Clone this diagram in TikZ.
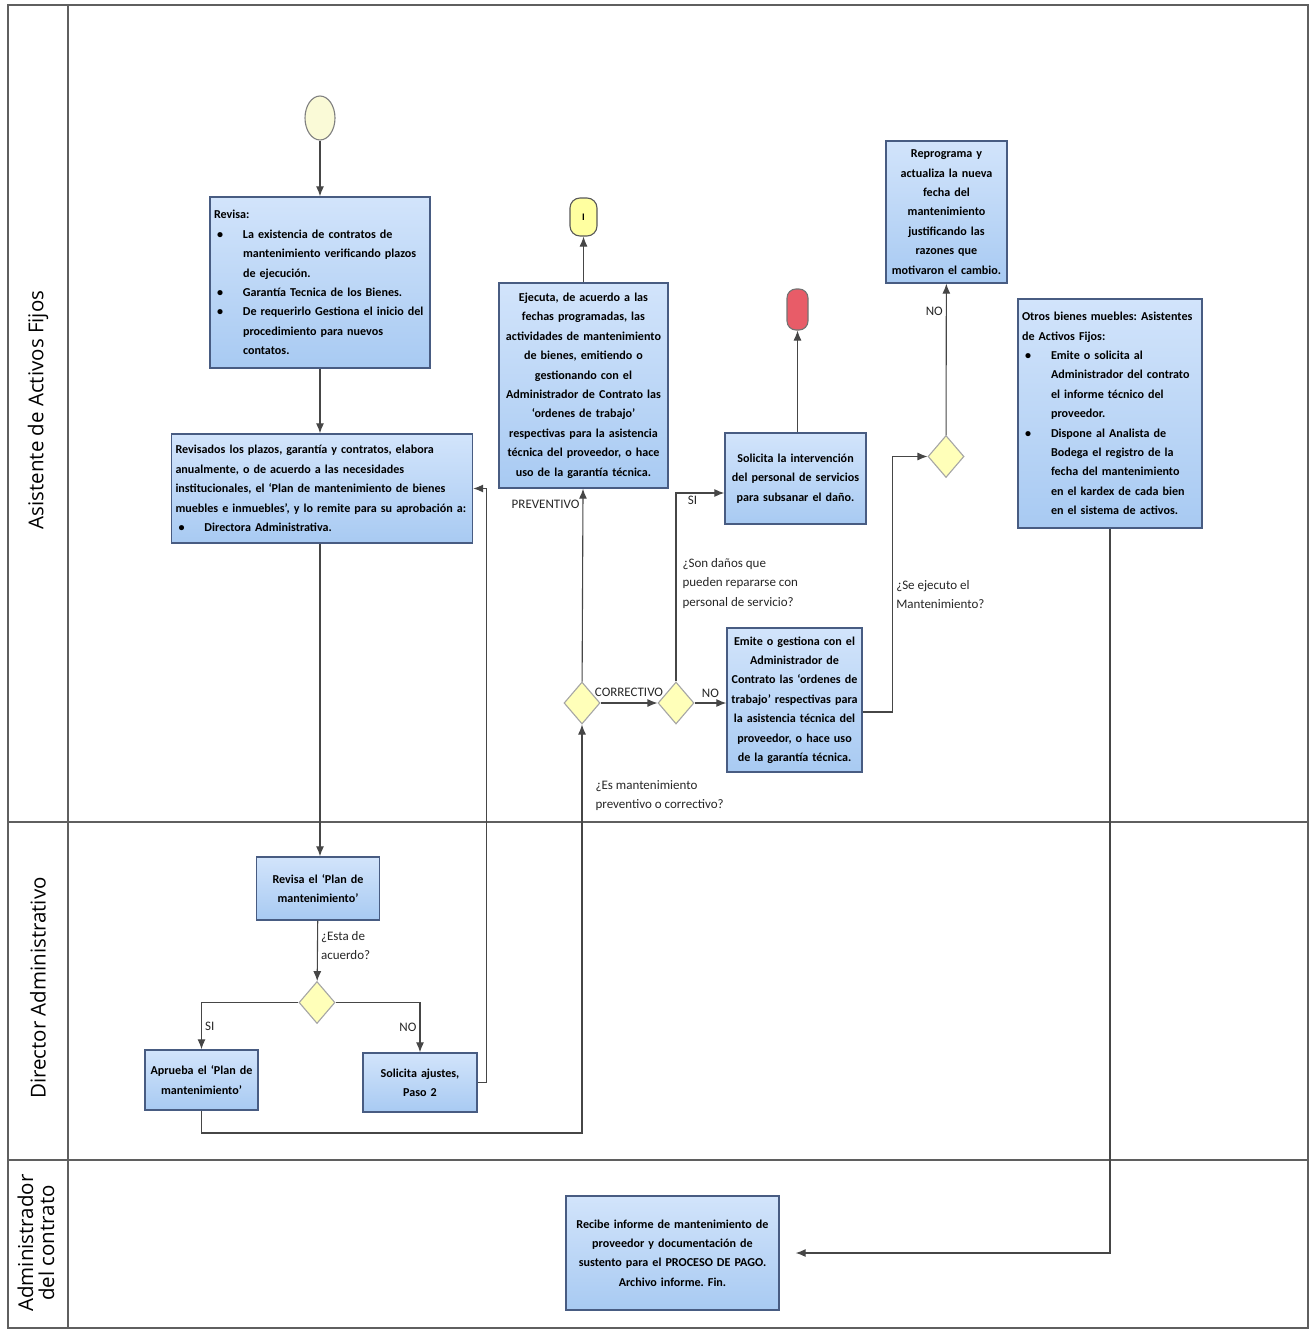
\documentclass[tikz,border=0pt]{standalone}
\usepackage{fontspec}
\setmainfont{Carlito}
\newfontfamily\lanefont{Open Sans}
\usepackage{xcolor}
\usetikzlibrary{shapes.geometric, arrows.meta, positioning}
\frenchspacing

\definecolor{boxtop}{RGB}{210,228,251}
\definecolor{boxbot}{RGB}{168,202,242}
\definecolor{boxline}{RGB}{72,92,130}
\definecolor{gatefill}{RGB}{255,255,185}
\definecolor{gateline}{RGB}{165,165,165}
\definecolor{startfill}{RGB}{250,250,215}
\definecolor{termyellow}{RGB}{255,255,160}
\definecolor{termred}{RGB}{232,92,104}
\definecolor{flowline}{RGB}{70,70,70}
\definecolor{laneline}{RGB}{95,95,95}

\newcommand{\bul}{\hspace*{3pt}\makebox[26pt][l]{\textbullet}}
\newcommand{\ind}{\hspace*{29pt}}

\begin{document}
\begin{tikzpicture}[x=1pt, y=-1pt, >={Latex[length=10pt,width=8pt]},
    task/.style={draw=boxline, line width=1.4pt, top color=boxtop, bottom color=boxbot,
      align=center, inner sep=4pt, font=\fontsize{12.1}{19.4}\selectfont\bfseries},
    gate/.style={diamond, draw=gateline, fill=gatefill, line width=1.1pt,
      minimum width=36pt, minimum height=42pt, inner sep=0pt},
    startev/.style={ellipse, draw=gray, fill=startfill, line width=1.1pt,
      minimum width=30pt, minimum height=44pt, inner sep=0pt},
    endI/.style={draw=black!65, fill=termyellow, rounded corners=10pt, line width=1.1pt,
      minimum width=27pt, minimum height=38pt, inner sep=0pt, font=\bfseries},
    endR/.style={draw=black!55, fill=termred, rounded corners=9pt, line width=1.1pt,
      minimum width=21pt, minimum height=41pt, inner sep=0pt},
    flow/.style={->, draw=flowline, line width=1.1pt},
    lbl/.style={font=\fontsize{13}{19.5}\selectfont, text=black!85, inner sep=3pt, align=left},
    lanerule/.style={draw=laneline, line width=1.2pt},
    lanelbl/.style={rotate=90, font=\lanefont\fontsize{20.5}{21}\selectfont, align=center}]
  \useasboundingbox (0,0) rectangle (1313,1330);

  % Lanes
  \draw[lanerule] (8,5) rectangle (1308,1328);
  \draw[lanerule] (68,5) -- (68,1328);
  \draw[lanerule] (8,822) -- (1308,822);
  \draw[lanerule] (8,1160) -- (1308,1160);
  \node[lanelbl] (laneA) at (38,410) {Asistente de Activos Fijos};
  \node[lanelbl] (laneB) at (38,988) {Director Administrativo};
  \node[lanelbl] (laneC) at (36,1243) {Administrador\\del contrato};

  % Asistente de Activos Fijos
  \node[startev] (inicio) at (320,118) {};
  \node[task, align=left, text width=212pt, minimum height=171pt] (revisa) at (320,282.5)
    {Revisa:\\
     \bul La existencia de contratos de\\
     \ind mantenimiento verificando plazos\\
     \ind de ejecución.\\
     \bul Garantía Tecnica de los Bienes.\\
     \bul De requerirlo Gestiona el inicio del\\
     \ind procedimiento para nuevos\\
     \ind contatos.};
  \node[task, align=left, text width=293pt, minimum height=109pt] (revisados) at (322,488.5)
    {Revisados los plazos, garantía y contratos, elabora\\
     anualmente, o de acuerdo a las necesidades\\
     institucionales, el `Plan de mantenimiento de bienes\\
     muebles e inmuebles', y lo remite para su aprobación a:\\
     \bul Directora Administrativa.};
  \node[task, text width=161pt, minimum height=205pt] (ejecuta) at (583.5,385.5)
    {Ejecuta, de acuerdo a las\\ fechas programadas, las\\ actividades de mantenimiento\\
     de bienes, emitiendo o\\ gestionando con el\\ Administrador de Contrato las\\
     `ordenes de trabajo'\\ respectivas para la asistencia\\ técnica del proveedor, o hace\\
     uso de la garantía técnica.};
  \node[endI] (finI) at (583.5,217) {I};
  \node[gate] (tipo) at (582,703) {};
  \node[gate] (danos) at (676,703) {};
  \node[task, text width=133pt, minimum height=91pt] (interv) at (795.5,478.5)
    {Solicita la intervención\\ del personal de servicios\\ para subsanar el daño.};
  \node[endR] (finR) at (797.5,309.5) {};
  \node[task, text width=127pt, minimum height=144pt] (emite) at (794.5,700)
    {Emite o gestiona con el\\ Administrador de\\ Contrato las `ordenes de\\
     trabajo' respectivas para\\ la asistencia técnica del\\ proveedor, o hace uso\\
     de la garantía técnica.};
  \node[gate] (ejecutado) at (946,456.5) {};
  \node[task, text width=113pt, minimum height=142pt] (reprog) at (946.5,212)
    {Reprograma y\\ actualiza la nueva\\ fecha del\\ mantenimiento\\ justificando las\\
     razones que\\ motivaron el cambio.};
  \node[task, align=left, text width=176pt, minimum height=229pt] (otros) at (1110,413.5)
    {Otros bienes muebles: Asistentes\\
     de Activos Fijos:\\
     \bul Emite o solicita al\\
     \ind Administrador del contrato\\
     \ind el informe técnico del\\
     \ind proveedor.\\
     \bul Dispone al Analista de\\
     \ind Bodega el registro de la\\
     \ind fecha del mantenimiento\\
     \ind en el kardex de cada bien\\
     \ind en el sistema de activos.};

  % Director Administrativo
  \node[task, text width=115pt, minimum height=63pt] (revplan) at (318,888.5)
    {Revisa el `Plan de\\ mantenimiento'};
  \node[gate] (acuerdo) at (317,1002.5) {};
  \node[task, text width=105pt, minimum height=60pt] (aprueba) at (201.5,1080)
    {Aprueba el `Plan de\\ mantenimiento'};
  \node[task, text width=106pt, minimum height=59pt] (ajustes) at (420,1082.5)
    {Solicita ajustes,\\ Paso 2};
  \coordinate (bajo) at (201.5,1133);

  % Administrador del contrato
  \node[task, text width=205pt, minimum height=114pt] (recibe) at (672.5,1253)
    {Recibe informe de mantenimiento de\\ proveedor y documentación de\\
     sustento para el PROCESO DE PAGO.\\ Archivo informe. Fin.};

  % Arrows
  \draw[flow] (inicio) -- (inicio |- revisa.north);
  \draw[flow] (revisa.south) -- (revisa.south |- revisados.north);
  \draw[flow] (revisa.south |- revisados.south) -- (revisa.south |- revplan.north);
  \draw[flow] (revplan) -- node[lbl, pos=0.41, right]{¿Esta de\\acuerdo?} (acuerdo);
  \draw[flow] (acuerdo.west) -| node[lbl, pos=0.75, right]{SI} (aprueba.north);
  \draw[flow] (acuerdo.east) -| node[lbl, pos=0.75, left]{NO} (ajustes.north);
  \draw[flow] (ajustes.east) -- ++(9,0) |- (revisados.east);
  \draw[flow] (aprueba.south) -- (bajo) -| node[lbl, pos=0.913, right, xshift=10pt]{¿Es mantenimiento\\preventivo o correctivo?} (tipo.south);
  \draw[flow] (tipo) -- node[lbl, pos=0.92, left]{PREVENTIVO} (ejecuta);
  \draw[flow] (ejecuta) -- (finI);
  \draw[flow] (tipo) -- node[lbl, above=3pt]{CORRECTIVO} (danos);
  \draw[flow] (danos.north) |- node[lbl, pos=0.26, right, xshift=3pt]{¿Son daños que\\pueden repararse con\\personal de servicio?}
    node[lbl, pos=0.67, below]{SI} ([yshift=-14.5pt]interv.west);
  \draw[flow] (danos.east) -- node[lbl, above=2pt]{NO} (danos.east -| emite.west);
  \draw[flow] (interv.north -| finR) -- (finR);
  \draw[flow] ([yshift=-12pt]emite.east) -- ++(30,0) |- node[lbl, pos=0.23, right]{¿Se ejecuto el\\Mantenimiento?} (ejecutado.west);
  \draw[flow] (ejecutado) -- node[lbl, pos=0.82, left]{NO} (reprog);
  \draw[flow, shorten >=16pt] (otros.south) |- (recibe.east);
\end{tikzpicture}
\end{document}
